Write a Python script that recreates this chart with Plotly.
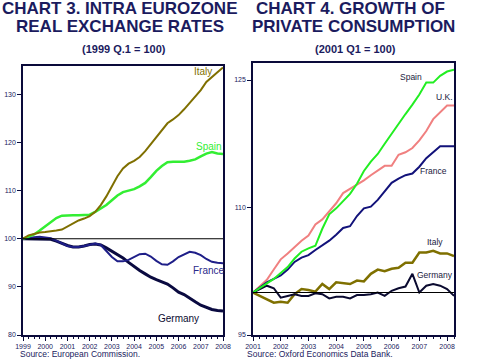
import plotly.graph_objects as go

W, H = 480, 361

# ---------------- Data: Chart 3 (quarterly, 1999Q1 .. 2008Q1) ----------------
q3 = [1999 + i / 4 for i in range(37)]
italy3 = [100.0, 100.7, 101.0, 101.3, 101.4, 101.5, 101.7, 101.9,
          102.5, 103.2, 103.8, 104.2, 104.7, 105.6, 107.0, 108.8,
          110.8, 113.0, 114.6, 115.6, 116.2, 117.0, 118.2, 119.6,
          121.1, 122.6, 124.0, 124.8, 125.7, 126.9, 128.2, 129.4,
          130.9, 132.6, 133.7, 134.6, 135.6]
spain3 = [100.0, 100.4, 100.9, 101.7, 102.6, 103.5, 104.3, 104.8,
          104.9, 104.9, 104.9, 104.9, 105.0, 105.6, 106.3, 107.0,
          108.0, 109.0, 109.7, 110.0, 110.3, 110.9, 111.6, 112.8,
          114.1, 115.1, 115.9, 116.0, 116.0, 116.0, 116.2, 116.5,
          117.1, 117.7, 118.0, 117.7, 117.6]
france3 = [100.0, 100.2, 100.3, 100.4, 100.3, 100.1, 99.6, 99.0,
           98.5, 98.3, 98.3, 98.5, 98.8, 99.0, 98.7, 97.4,
           96.2, 95.3, 95.3, 95.6, 96.2, 96.8, 96.9, 96.3,
           95.4, 94.7, 94.6, 95.3, 96.2, 96.8, 97.3, 97.1,
           96.6, 95.8, 95.2, 95.0, 94.9]
germany3 = [100.0, 100.0, 100.0, 100.0, 100.0, 99.9, 99.5, 99.0,
            98.6, 98.3, 98.3, 98.5, 98.8, 98.9, 98.7, 98.1,
            97.4, 96.8, 96.0, 95.1, 94.2, 93.4, 92.7, 92.0,
            91.5, 91.0, 90.6, 89.8, 88.9, 88.4, 87.6, 86.9,
            86.2, 85.7, 85.3, 85.1, 85.0]

# ---------------- Data: Chart 4 (quarterly, 2001Q1 .. 2008Q2) ----------------
q4 = [2001 + i / 4 for i in range(30)]
spain4 = [100.0, 100.5, 101.0, 101.6, 102.3, 103.0, 104.0, 104.8,
          105.2, 105.5, 107.5, 109.2, 109.9, 110.8, 111.6, 112.8,
          114.3, 115.4, 116.3, 117.5, 118.7, 119.8, 121.0, 122.1,
          123.3, 124.7, 124.7, 125.5, 126.0, 126.2]
uk4 = [100.0, 100.7, 101.5, 102.7, 103.9, 104.6, 105.4, 106.1,
       106.7, 108.0, 108.6, 109.5, 110.5, 111.7, 112.2, 112.6,
       113.2, 113.8, 114.4, 114.9, 114.9, 116.2, 116.5, 117.0,
       117.9, 119.0, 120.4, 121.2, 122.0, 122.0]
france4 = [100.0, 100.6, 101.2, 101.6, 102.0, 102.7, 103.6, 104.1,
           104.4, 105.0, 105.5, 106.1, 106.8, 107.6, 107.8, 109.0,
           109.9, 110.1, 110.9, 111.9, 112.9, 113.4, 113.8, 114.0,
           114.8, 115.8, 116.5, 117.2, 117.2, 117.2]
italy4 = [100.0, 99.6, 99.2, 98.8, 98.9, 98.8, 99.8, 100.4,
          100.3, 100.1, 101.0, 100.4, 101.2, 101.1, 101.0, 101.4,
          101.3, 102.2, 102.7, 102.5, 102.8, 102.9, 103.5, 103.5,
          104.7, 104.7, 104.9, 104.6, 104.6, 104.3]
germany4 = [100.0, 100.4, 100.8, 100.5, 99.4, 99.6, 99.8, 99.6,
            99.6, 99.9, 99.8, 99.3, 99.5, 99.5, 99.3, 99.7,
            99.7, 99.8, 100.0, 99.6, 100.2, 100.5, 100.7, 102.2,
            100.0, 100.8, 101.0, 100.8, 100.4, 99.6]

years3 = list(range(1999, 2009))
years4 = list(range(2001, 2009))
yticks3 = [80, 90, 100, 110, 120, 130]
yticks4 = [95, 110, 125]

NAVY = "#1b1b5e"
FRAME = "#0a0a3a"
FONT = "Liberation Sans"

fig = go.Figure()

def line(x, y, color, width, xa, ya):
    fig.add_trace(go.Scatter(x=x, y=y, mode="lines", xaxis=xa, yaxis=ya,
                             line=dict(color=color, width=width),
                             showlegend=False, hoverinfo="skip"))

# chart 3
line(q3, germany3, "#0a0a40", 3, "x", "y")
line(q3, france3, "#1e1e88", 2, "x", "y")
line(q3, spain3, "#33ee33", 2.5, "x", "y")
line(q3, italy3, "#7f6f00", 2, "x", "y")
# chart 4
line(q4, italy4, "#7f7000", 2.5, "x2", "y2")
line(q4, germany4, "#0a0a30", 2, "x2", "y2")
line(q4, uk4, "#f08080", 2, "x2", "y2")
line(q4, france4, "#12127a", 2, "x2", "y2")
line(q4, spain4, "#22ee22", 2, "x2", "y2")

def px_x(p):
    return p / W

def px_y(p):
    return 1 - p / H

axis_common = dict(showgrid=False, zeroline=False, showline=True, mirror=True,
                   automargin=False,
                   linecolor=FRAME, linewidth=1.5, ticks="outside",
                   tickcolor=FRAME, tickfont=dict(family=FONT, size=7, color=NAVY))

fig.update_layout(
    width=W, height=H,
    margin=dict(l=0, r=0, t=0, b=0, pad=0),
    paper_bgcolor="white", plot_bgcolor="white",
    xaxis=dict(domain=[px_x(23), px_x(223)], range=[1999, 2008], anchor="y",
               tickvals=years3, ticklen=4,
               minor=dict(ticks="outside", dtick=0.25, tick0=1999, ticklen=2, tickcolor=FRAME),
               **axis_common),
    yaxis=dict(domain=[px_y(335), px_y(66)], range=[80, 135.9], anchor="x",
               tickvals=yticks3, ticklen=4, **axis_common),
    xaxis2=dict(domain=[px_x(253), px_x(454)], range=[2001, 2008.25], anchor="y2",
                tickvals=years4, ticklen=4,
                minor=dict(ticks="outside", dtick=0.25, tick0=2001, ticklen=2, tickcolor=FRAME),
                **axis_common),
    yaxis2=dict(domain=[px_y(335), px_y(62.7)], range=[95, 127.04], anchor="x2",
                tickvals=yticks4, ticklen=4, **axis_common),
)

# reference lines at 100
fig.add_shape(type="line", xref="x domain", yref="y", x0=0, x1=1, y0=100, y1=100,
              line=dict(color="#000000", width=1.2))
fig.add_shape(type="line", xref="x2 domain", yref="y2", x0=0, x1=1, y0=100, y1=100,
              line=dict(color="#000000", width=1.2))

def ann(text, x, y, size, color, xref="paper", yref="paper", bold=False, xanchor="center"):
    fig.add_annotation(text=f"<b>{text}</b>" if bold else text, x=x, y=y, xref=xref, yref=yref,
                       showarrow=False, xanchor=xanchor, yanchor="middle",
                       font=dict(family=FONT, size=size, color=color))

# titles
ann("CHART 3. INTRA EUROZONE", px_x(120), px_y(9), 17, NAVY, bold=True)
ann("REAL EXCHANGE RATES", px_x(120), px_y(27), 17, NAVY, bold=True)
ann("(1999 Q.1 = 100)", px_x(124), px_y(49), 11, NAVY, bold=True)
ann("CHART 4. GROWTH OF", px_x(350), px_y(9), 17, NAVY, bold=True)
ann("PRIVATE CONSUMPTION", px_x(353), px_y(27), 17, NAVY, bold=True)
ann("(2001 Q1 = 100)", px_x(355), px_y(49), 11, NAVY, bold=True)

# sources
ann("Source: European Commission.", px_x(18), px_y(354), 8.5, NAVY, xanchor="left")
ann("Source: Oxford Economics Data Bank.", px_x(245), px_y(354), 8.5, NAVY, xanchor="left")

# series labels chart 3
ann("Italy", 2007.1, 134.7, 10, "#7f6f00", xref="x", yref="y")
ann("Spain", 2007.35, 119.1, 10, "#33ee33", xref="x", yref="y")
ann("France", 2007.35, 93.4, 10, "#2a2a8a", xref="x", yref="y")
ann("Germany", 2006.0, 83.4, 10, "#0a0a30", xref="x", yref="y")

# series labels chart 4
ann("Spain", 2006.7, 125.35, 8.5, "#1a1a40", xref="x2", yref="y2")
ann("U.K.", 2007.9, 123.0, 8.5, "#1a1a40", xref="x2", yref="y2")
ann("France", 2007.5, 114.3, 8.5, "#1a1a40", xref="x2", yref="y2")
ann("Italy", 2007.55, 105.9, 8.5, "#1a1a40", xref="x2", yref="y2")
ann("Germany", 2007.55, 102.1, 8.5, "#1a1a40", xref="x2", yref="y2")

fig.write_html("out.html", config={"displayModeBar": False},
               post_script="document.body.style.margin='0';document.body.style.overflow='hidden';")
